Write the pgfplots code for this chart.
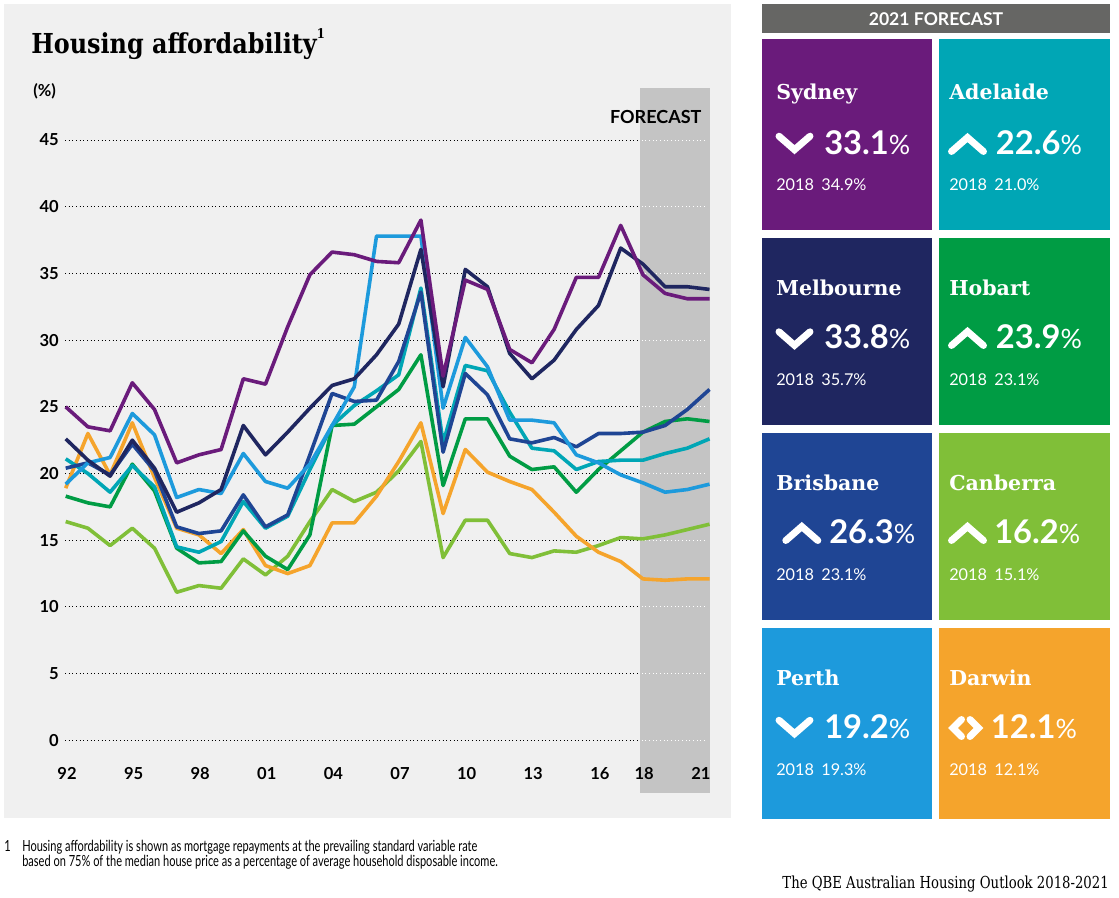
\documentclass[border=0pt]{standalone}
\usepackage{fontspec}
\usepackage{pgfplots}
\usepackage{pgfplotstable}
\pgfplotsset{compat=1.18}
\setmainfont{Lato}
\newfontfamily\slab{DejaVu Serif}
\newfontfamily\slabc{DejaVu Serif}[FakeStretch=0.87]
\newfontfamily\slabs{DejaVu Serif}[FakeStretch=0.8]
\newfontfamily\cond{Lato}[FakeStretch=0.72]

\definecolor{syd}{HTML}{6A1B7B}
\definecolor{ade}{HTML}{00A6B5}
\definecolor{mel}{HTML}{1F2660}
\definecolor{hob}{HTML}{009C44}
\definecolor{bri}{HTML}{1F4594}
\definecolor{can}{HTML}{80BF38}
\definecolor{per}{HTML}{1D9ADC}
\definecolor{dar}{HTML}{F5A42C}
\definecolor{panel}{HTML}{F0F0F0}
\definecolor{band}{HTML}{C4C4C4}
\definecolor{hdr}{HTML}{666664}

\pgfplotstableread{
year syd mel bri ade hob can per dar
1992 25.0 22.6 20.4 21.1 18.3 16.4 19.2 18.9
1993 23.5 21.0 20.8 20.0 17.8 15.9 20.8 23.0
1994 23.2 19.8 19.9 18.6 17.5 14.6 21.2 19.9
1995 26.8 22.5 22.2 20.6 20.7 15.9 24.5 23.8
1996 24.8 20.4 20.2 19.0 18.7 14.4 22.9 19.7
1997 20.8 17.1 16.0 14.5 14.4 11.1 18.2 15.9
1998 21.4 17.8 15.5 14.1 13.3 11.6 18.8 15.4
1999 21.8 18.8 15.7 14.9 13.4 11.4 18.5 14.0
2000 27.1 23.6 18.4 17.9 15.7 13.6 21.5 15.8
2001 26.7 21.4 16.0 15.9 13.8 12.4 19.4 13.1
2002 31.0 23.1 16.9 16.8 12.8 13.8 18.9 12.5
2003 34.9 24.9 21.4 20.3 15.4 16.4 20.7 13.1
2004 36.6 26.6 26.0 23.6 23.6 18.8 23.6 16.3
2005 36.4 27.1 25.4 25.1 23.7 17.9 26.5 16.3
2006 35.9 28.9 25.5 26.2 25.0 18.6 37.8 18.3
2007 35.8 31.2 28.4 27.4 26.3 20.2 37.8 20.9
2008 39.0 36.8 33.6 33.9 28.9 22.4 37.8 23.8
2009 27.3 26.5 21.6 22.3 19.1 13.7 24.9 17.0
2010 34.5 35.3 27.5 28.1 24.1 16.5 30.2 21.8
2011 33.8 34.0 25.9 27.7 24.1 16.5 28.0 20.1
2012 29.3 29.0 22.6 24.6 21.3 14.0 24.0 19.4
2013 28.3 27.1 22.3 21.9 20.3 13.7 24.0 18.8
2014 30.8 28.5 22.7 21.7 20.5 14.2 23.8 17.1
2015 34.7 30.8 22.0 20.3 18.6 14.1 21.4 15.3
2016 34.7 32.6 23.0 20.9 20.3 14.6 20.8 14.1
2017 38.6 36.9 23.0 21.0 21.7 15.2 19.9 13.4
2018 34.9 35.7 23.1 21.0 23.1 15.1 19.3 12.1
2019 33.5 34.0 23.6 21.5 23.9 15.4 18.6 12.0
2020 33.1 34.0 24.8 21.9 24.1 15.8 18.8 12.1
2021 33.1 33.8 26.3 22.6 23.9 16.2 19.2 12.1
}\data

\newcommand{\down}[2]{\draw[white,line width=5.2pt,line cap=round] (#1-15.5,#2) -- (#1,#2+13.5) -- (#1+15.5,#2);}
\newcommand{\up}[2]{\draw[white,line width=5.2pt,line cap=round] (#1-16,#2) -- (#1,#2-14) -- (#1+16,#2);}
\newcommand{\bigv}[1]{{\fontsize{24.5}{26}\selectfont\bfseries #1}{\fontsize{20}{22}\selectfont\%}}
\newcommand{\smallv}[1]{\fontsize{12.2}{14}\selectfont 2018\hspace{0.45em}#1\%}
\newcommand{\city}[1]{\slab\bfseries\fontsize{15.4}{17}\selectfont #1}

\begin{document}
\begin{tikzpicture}
\begin{scope}[x=0.75pt,y=-0.75pt]
\path[use as bounding box] (0,0) rectangle (1119,897);
\fill[white] (0,0) rectangle (1119,897);
\fill[panel] (4,4) rectangle (731,818);
\fill[band] (640,88) rectangle (710,792.7);
\end{scope}

\begin{axis}[
  at={(49.275pt,-555.225pt)}, anchor=south west,
  width=482.85pt, height=450.225pt, scale only axis,
  xmin=1992, xmax=2021, ymin=0, ymax=45,
  clip=false,
  axis line style={draw=none},
  major tick length=0pt,
  ytick={0,5,...,45},
  xtick={1992,1995,1998,2001,2004,2007,2010,2013,2016,2018,2020.55},
  xticklabels={92,95,98,01,04,07,10,13,16,18,21},
  ticklabel style={font=\fontsize{12.4}{14}\selectfont\bfseries},
  /pgf/number format/assume math mode=true,
  yticklabel style={anchor=east, inner sep=0pt, xshift=-5pt},
  xticklabel style={anchor=center, inner sep=0pt, yshift=-24.75pt, xshift=1pt},
]
\pgfplotsinvokeforeach{0,5,...,45}{
  \draw[black, line width=0.75pt, dash pattern=on 0.75pt off 2pt] (axis cs:1991.97,#1) -- (axis cs:2017.87,#1);
  \draw[white, line width=0.75pt, dash pattern=on 0.75pt off 2pt] (axis cs:2017.95,#1) -- (axis cs:2020.87,#1);
}
\pgfplotsset{every axis plot/.append style={line width=2.7pt, line join=round, mark=none}}
\addplot[can] table[x=year,y=can] {\data};
\addplot[dar] table[x=year,y=dar] {\data};
\addplot[hob] table[x=year,y=hob] {\data};
\addplot[ade] table[x=year,y=ade] {\data};
\addplot[bri] table[x=year,y=bri] {\data};
\addplot[per] table[x=year,y=per] {\data};
\addplot[mel] table[x=year,y=mel] {\data};
\addplot[syd] table[x=year,y=syd] {\data};
\end{axis}

\begin{scope}[x=0.75pt,y=-0.75pt]
% titles
\node[anchor=base west, inner sep=0] at (31,53.3) {\slabc\bfseries\fontsize{20.6}{24}\selectfont Housing affordability\raisebox{0.55em}{\fontsize{10}{12}\selectfont 1}};
\node[anchor=west, inner sep=0] at (33,91.7) {\fontsize{12.4}{14}\selectfont\bfseries (\%)};
\node[anchor=east, inner sep=0] at (701.7,116.7) {\fontsize{13.5}{15}\selectfont\bfseries FORECAST};
% footnote
\node[anchor=base west, inner sep=0] at (4,851) {\cond\fontsize{11.5}{13}\selectfont 1};
\node[anchor=base west, inner sep=0] at (22,851) {\cond\fontsize{11.5}{13}\selectfont Housing affordability is shown as mortgage repayments at the prevailing standard variable rate};
\node[anchor=base west, inner sep=0] at (22,866.5) {\cond\fontsize{11.5}{13}\selectfont based on 75\% of the median house price as a percentage of average household disposable income.};
\node[anchor=base east, inner sep=0] at (1109,888.3) {\slabs\fontsize{12.4}{14}\selectfont The QBE Australian Housing Outlook 2018-2021};

% right panel
\fill[hdr] (762,4) rectangle (1110,32.7);
\node[white, inner sep=0] at (936,19) {\fontsize{13.2}{15}\selectfont\bfseries 2021 FORECAST};
\fill[syd] (762,39) rectangle (932,230);
\fill[ade] (939,39) rectangle (1110,230);
\fill[mel] (762,238) rectangle (932,425);
\fill[hob] (939,238) rectangle (1110,425);
\fill[bri] (762,433.3) rectangle (932,620);
\fill[can] (939,433.3) rectangle (1110,620);
\fill[per] (762,628.3) rectangle (932,818.7);
\fill[dar] (939,628.3) rectangle (1110,818.7);

\begin{scope}[every node/.style={white, inner sep=0}]
\node[anchor=base west] at (776,99.5) {\city{Sydney}};
\node[anchor=base west] at (949,99.5) {\city{Adelaide}};
\node[anchor=base west] at (776,295) {\city{Melbourne}};
\node[anchor=base west] at (949,295) {\city{Hobart}};
\node[anchor=base west] at (776,490) {\city{Brisbane}};
\node[anchor=base west] at (949,490) {\city{Canberra}};
\node[anchor=base west] at (776,685) {\city{Perth}};
\node[anchor=base west] at (949,685) {\city{Darwin}};

\node[anchor=base west] at (824,154) {\bigv{33.1}};
\node[anchor=base west] at (995.7,154) {\bigv{22.6}};
\node[anchor=base west] at (824,348) {\bigv{33.8}};
\node[anchor=base west] at (995.7,348) {\bigv{23.9}};
\node[anchor=base west] at (829,543.3) {\bigv{26.3}};
\node[anchor=base west] at (994,543.3) {\bigv{16.2}};
\node[anchor=base west] at (824,738.3) {\bigv{19.2}};
\node[anchor=base west] at (990.7,738.3) {\bigv{12.1}};

\node[anchor=west] at (776,185) {\smallv{34.9}};
\node[anchor=west] at (949,185) {\smallv{21.0}};
\node[anchor=west] at (776,380) {\smallv{35.7}};
\node[anchor=west] at (949,380) {\smallv{23.1}};
\node[anchor=west] at (776,575) {\smallv{23.1}};
\node[anchor=west] at (949,575) {\smallv{15.1}};
\node[anchor=west] at (776,770) {\smallv{19.3}};
\node[anchor=west] at (949,770) {\smallv{12.1}};
\end{scope}

\down{794.5}{136.2}
\down{794.5}{331.8}
\down{794.5}{720.2}
\up{967.5}{151.5}
\up{967.5}{345.5}
\up{801.8}{540.5}
\up{967.5}{540.5}
\draw[white,line width=5.2pt,line cap=round] (961.5,719.5) -- (953,728) -- (961.5,736.5);
\draw[white,line width=5.2pt,line cap=round] (970,719.5) -- (978.5,728) -- (970,736.5);
\end{scope}
\end{tikzpicture}
\end{document}
